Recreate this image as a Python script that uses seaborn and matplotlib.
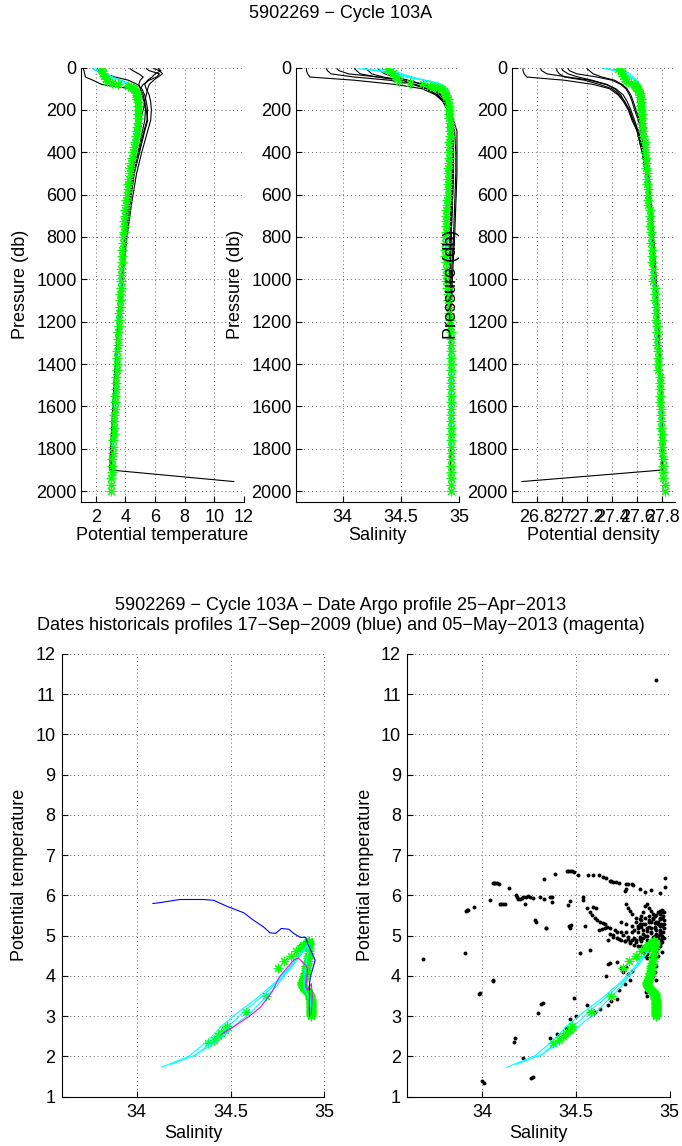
import matplotlib
matplotlib.use("Agg")
import matplotlib.pyplot as plt
import seaborn as sns
from matplotlib.ticker import FixedLocator, FuncFormatter

# ------------------------------------------------------------------ data
title_top = "5902269 \u2212 Cycle 103A"
title_bot1 = "5902269 \u2212 Cycle 103A \u2212 Date Argo profile 25\u2212Apr\u22122013"
title_bot2 = "Dates historicals profiles 17\u2212Sep\u22122009 (blue) and 05\u2212May\u22122013 (magenta)"

pressure_ticks = [0, 200, 400, 600, 800, 1000, 1200, 1400, 1600, 1800, 2000]
temp_ticks = [2, 4, 6, 8, 10, 12]
sal_ticks = [34, 34.5, 35]
dens_ticks = [26.8, 27, 27.2, 27.4, 27.6, 27.8]
theta_ticks = [1, 2, 3, 4, 5, 6, 7, 8, 9, 10, 11, 12]

# Argo profile (green asterisks)
argo_p = [5, 15, 28, 40, 52, 65, 75, 80, 85, 90, 95, 100,
          110, 120, 130, 140, 150, 165, 180, 200, 220, 240,
          260, 280, 300, 325, 350, 375, 400, 425, 450, 475,
          500, 525, 550, 575, 600, 625, 650, 675, 700, 725,
          750, 775, 800, 830, 860, 890, 920, 950, 980, 1010,
          1040, 1070, 1100, 1130, 1160, 1190, 1220, 1250, 1280, 1310,
          1340, 1370, 1400, 1430, 1460, 1490, 1520, 1550, 1580, 1610,
          1640, 1670, 1700, 1730, 1760, 1790, 1820, 1850, 1880, 1910,
          1940, 1970, 2000]
argo_T = [2.33, 2.42, 2.50, 2.58, 2.66, 2.75, 3.10, 3.50, 4.20, 4.36, 4.49, 4.61,
          4.70, 4.73, 4.76, 4.78, 4.80, 4.82, 4.84, 4.85, 4.86, 4.85,
          4.83, 4.80, 4.76, 4.70, 4.63, 4.56, 4.50, 4.44, 4.38, 4.32,
          4.28, 4.24, 4.19, 4.15, 4.11, 4.07, 4.04, 4.00, 3.96, 3.93,
          3.90, 3.88, 3.84, 3.83, 3.80, 3.78, 3.76, 3.72, 3.71, 3.70,
          3.67, 3.65, 3.62, 3.60, 3.58, 3.56, 3.54, 3.52, 3.50, 3.48,
          3.46, 3.44, 3.42, 3.40, 3.38, 3.36, 3.34, 3.32, 3.30, 3.28,
          3.26, 3.24, 3.22, 3.20, 3.18, 3.16, 3.14, 3.12, 3.10, 3.08,
          3.05, 3.03, 3.00]
argo_S = [34.38, 34.41, 34.43, 34.45, 34.47, 34.48, 34.58, 34.69, 34.75, 34.785, 34.82, 34.85,
          34.87, 34.88, 34.885, 34.89, 34.90, 34.905, 34.91, 34.91, 34.915, 34.915,
          34.92, 34.92, 34.92, 34.92, 34.915, 34.915, 34.91, 34.91, 34.91, 34.905,
          34.905, 34.90, 34.90, 34.90, 34.90, 34.895, 34.895, 34.89, 34.89, 34.89,
          34.885, 34.885, 34.88, 34.88, 34.88, 34.88, 34.885, 34.885, 34.89, 34.89,
          34.895, 34.90, 34.905, 34.91, 34.915, 34.92, 34.92, 34.925, 34.925, 34.925,
          34.925, 34.925, 34.93, 34.93, 34.93, 34.93, 34.93, 34.93, 34.93, 34.93,
          34.93, 34.93, 34.93, 34.93, 34.93, 34.93, 34.93, 34.93, 34.93, 34.93,
          34.93, 34.93, 34.93]
argo_sig = [27.45, 27.47, 27.48, 27.49, 27.50, 27.51, 27.55, 27.58, 27.58, 27.59, 27.60, 27.61,
            27.61, 27.62, 27.62, 27.62, 27.63, 27.63, 27.63, 27.63, 27.64, 27.64,
            27.64, 27.64, 27.65, 27.65, 27.66, 27.66, 27.66, 27.67, 27.67, 27.67,
            27.68, 27.68, 27.68, 27.69, 27.69, 27.69, 27.69, 27.70, 27.70, 27.70,
            27.70, 27.71, 27.71, 27.71, 27.72, 27.72, 27.72, 27.73, 27.73, 27.73,
            27.74, 27.74, 27.74, 27.75, 27.75, 27.75, 27.76, 27.76, 27.76, 27.76,
            27.77, 27.77, 27.77, 27.77, 27.78, 27.78, 27.78, 27.78, 27.78, 27.79,
            27.79, 27.79, 27.79, 27.80, 27.80, 27.80, 27.80, 27.81, 27.81, 27.81,
            27.81, 27.82, 27.82]

# nearby historical profiles (black lines)
hist_p = [5, 15, 30, 45, 60, 80, 100, 130, 160, 200, 250, 300, 400, 500, 650, 800, 1000, 1200, 1500, 1900]
hist6_p = [5, 15, 30, 45, 60, 80, 100, 130, 160, 200, 250, 300, 400, 500, 650, 800, 1000, 1200, 1500, 1900, 1955]

hist1_T = [1.15, 1.2, 1.25, 1.3, 1.8, 2.4, 4.3, 4.7, 4.9, 5.0, 5.05, 4.95, 4.7, 4.45, 4.2, 3.95, 3.72, 3.55, 3.3, 3.02]
hist2_T = [4.3, 4.5, 4.9, 5.2, 5.0, 4.9, 5.0, 5.2, 5.3, 5.4, 5.5, 5.3, 4.95, 4.6, 4.3, 4.05, 3.78, 3.58, 3.32, 3.05]
hist3_T = [6.2, 6.4, 6.0, 5.8, 5.5, 5.3, 5.4, 5.6, 5.7, 5.75, 5.7, 5.5, 5.1, 4.75, 4.4, 4.1, 3.8, 3.6, 3.33, 3.04]
hist4_T = [5.4, 5.6, 6.3, 6.1, 5.6, 5.2, 5.0, 5.1, 5.25, 5.35, 5.3, 5.15, 4.85, 4.55, 4.25, 4.0, 3.75, 3.56, 3.3, 3.0]
hist5_T = [2.1, 2.2, 2.6, 3.3, 4.2, 4.8, 5.1, 5.3, 5.4, 5.5, 5.45, 5.25, 4.9, 4.5, 4.22, 3.98, 3.74, 3.55, 3.31, 3.03]
hist6_T = [5.9, 6.3, 6.5, 6.2, 5.9, 5.6, 5.5, 5.4, 5.3, 5.2, 5.0, 4.9, 4.6, 4.4, 4.15, 3.92, 3.7, 3.5, 3.22, 2.92, 11.32]

hist1_S = [33.69, 33.69, 33.70, 33.72, 34.10, 34.45, 34.68, 34.80, 34.86, 34.90, 34.93, 34.94, 34.95, 34.95, 34.94, 34.93, 34.92, 34.92, 34.93, 34.93]
hist2_S = [34.20, 34.22, 34.25, 34.35, 34.50, 34.62, 34.72, 34.80, 34.86, 34.90, 34.93, 34.96, 34.97, 34.97, 34.96, 34.95, 34.93, 34.93, 34.93, 34.93]
hist3_S = [34.30, 34.32, 34.36, 34.45, 34.56, 34.68, 34.76, 34.84, 34.88, 34.92, 34.95, 34.98, 34.98, 34.98, 34.97, 34.96, 34.94, 34.93, 34.93, 34.93]
hist4_S = [33.86, 33.87, 33.90, 34.10, 34.40, 34.60, 34.72, 34.82, 34.87, 34.90, 34.92, 34.93, 34.94, 34.94, 34.93, 34.92, 34.92, 34.92, 34.93, 34.93]
hist5_S = [33.95, 33.97, 34.05, 34.30, 34.55, 34.70, 34.78, 34.85, 34.88, 34.91, 34.93, 34.94, 34.95, 34.95, 34.94, 34.93, 34.92, 34.92, 34.93, 34.93]
hist6_S = [34.10, 34.12, 34.15, 34.30, 34.48, 34.62, 34.72, 34.81, 34.86, 34.90, 34.92, 34.93, 34.94, 34.94, 34.93, 34.92, 34.92, 34.92, 34.93, 34.93, 34.93]

hist1_sig = [26.69, 26.69, 26.70, 26.72, 27.02, 27.25, 27.38, 27.45, 27.49, 27.53, 27.57, 27.60, 27.64, 27.67, 27.70, 27.72, 27.74, 27.76, 27.78, 27.80]
hist2_sig = [26.96, 26.96, 26.98, 27.02, 27.18, 27.30, 27.40, 27.46, 27.50, 27.54, 27.57, 27.61, 27.65, 27.68, 27.71, 27.73, 27.75, 27.77, 27.79, 27.81]
hist3_sig = [27.00, 27.01, 27.05, 27.13, 27.24, 27.36, 27.42, 27.47, 27.50, 27.53, 27.56, 27.60, 27.64, 27.67, 27.70, 27.72, 27.74, 27.76, 27.78, 27.80]
hist4_sig = [26.83, 26.84, 26.88, 27.05, 27.22, 27.35, 27.43, 27.49, 27.52, 27.55, 27.58, 27.61, 27.65, 27.68, 27.71, 27.73, 27.75, 27.77, 27.79, 27.81]
hist5_sig = [27.05, 27.06, 27.12, 27.28, 27.40, 27.47, 27.51, 27.54, 27.56, 27.58, 27.61, 27.63, 27.66, 27.69, 27.71, 27.73, 27.75, 27.77, 27.79, 27.81]
hist6_sig = [27.20, 27.22, 27.25, 27.32, 27.42, 27.48, 27.52, 27.55, 27.57, 27.59, 27.62, 27.64, 27.67, 27.69, 27.71, 27.73, 27.75, 27.77, 27.79, 27.81, 26.68]

# closest reference profiles (cyan)
cyan_p = [5, 15, 25, 35, 45, 55, 65, 75, 85, 100, 130, 200, 400, 700, 1000, 1400, 1800]
cyan1_T = [1.73, 2.01, 2.40, 2.75, 3.10, 3.45, 3.85, 4.20, 4.45, 4.60, 4.72, 4.80, 4.52, 3.98, 3.72, 3.42, 3.12]
cyan2_T = [1.80, 2.05, 2.45, 2.80, 3.15, 3.50, 3.90, 4.25, 4.50, 4.63, 4.74, 4.81, 4.50, 3.96, 3.70, 3.40, 3.10]
cyan3_T = [2.00, 2.30, 2.62, 2.85, 3.05, 3.35, 3.72, 4.10, 4.40, 4.58, 4.70, 4.79, 4.51, 3.97, 3.71, 3.41, 3.11]
cyan1_S = [34.13, 34.28, 34.38, 34.45, 34.54, 34.64, 34.74, 34.81, 34.85, 34.88, 34.90, 34.91, 34.91, 34.89, 34.89, 34.925, 34.93]
cyan2_S = [34.18, 34.32, 34.42, 34.50, 34.58, 34.67, 34.76, 34.83, 34.87, 34.89, 34.905, 34.915, 34.91, 34.89, 34.89, 34.925, 34.93]
cyan3_S = [34.30, 34.40, 34.49, 34.54, 34.60, 34.66, 34.74, 34.80, 34.85, 34.88, 34.90, 34.91, 34.91, 34.89, 34.89, 34.925, 34.93]
cyan1_sig = [27.33, 27.43, 27.48, 27.51, 27.54, 27.57, 27.59, 27.60, 27.61, 27.62, 27.62, 27.63, 27.66, 27.70, 27.73, 27.77, 27.80]
cyan2_sig = [27.36, 27.45, 27.50, 27.53, 27.55, 27.58, 27.60, 27.61, 27.62, 27.62, 27.63, 27.63, 27.66, 27.70, 27.73, 27.77, 27.80]
cyan3_sig = [27.44, 27.49, 27.53, 27.55, 27.57, 27.59, 27.60, 27.61, 27.62, 27.62, 27.63, 27.63, 27.66, 27.70, 27.73, 27.77, 27.80]

# historical profile 17-Sep-2009 (blue) and 05-May-2013 (magenta)
blue_S = [34.085, 34.12, 34.23, 34.355, 34.41, 34.48, 34.57, 34.62, 34.675, 34.71, 34.74, 34.77,
          34.81, 34.835, 34.87, 34.90, 34.91, 34.94, 34.95, 34.925, 34.92, 34.92, 34.92]
blue_T = [5.80, 5.82, 5.90, 5.90, 5.88, 5.73, 5.57, 5.39, 5.22, 5.07, 5.06, 5.18,
          5.16, 5.06, 4.96, 4.96, 4.81, 4.50, 4.39, 3.98, 3.80, 3.40, 3.00]
mag_S = [34.45, 34.52, 34.60, 34.66, 34.72, 34.76, 34.80, 34.835, 34.86, 34.90, 34.91, 34.90,
         34.91, 34.93, 34.935, 34.93, 34.93]
mag_T = [2.55, 2.75, 3.00, 3.23, 3.60, 3.98, 4.20, 4.39, 4.45, 4.27, 4.15, 3.73,
         3.65, 3.81, 3.50, 3.20, 3.05]

# historical data points (black dots, bottom right)
dots_S = [33.685, 33.91, 33.915, 33.92, 33.925, 33.955, 33.985, 33.99, 34.055, 34.06,
          34.04, 34.06, 34.065, 34.07, 34.08, 34.09, 34.095, 34.10, 34.11, 34.12,
          34.145, 34.18, 34.185, 34.19, 34.20, 34.21, 34.22, 34.235, 34.245, 34.255,
          34.27, 34.23, 34.285, 34.30, 34.315, 34.325, 34.31, 34.33, 34.33, 34.34,
          34.36, 34.37, 34.375, 34.39, 34.452, 34.46, 34.47, 34.48, 34.49, 34.51,
          34.46, 34.47, 34.465, 34.52, 34.54, 34.55, 34.564, 34.59, 34.626, 34.56,
          34.575, 34.585, 34.60, 34.615, 34.63, 34.645, 34.655, 34.665, 34.59, 34.61,
          34.625, 34.64, 34.655, 34.645, 34.66, 34.68, 34.69, 34.70, 34.715, 34.73,
          34.67, 34.67, 34.77, 34.78, 34.80, 34.805, 34.76, 34.77, 34.84, 34.90,
          34.95, 34.977, 34.975, 34.87, 34.28, 34.34, 34.47, 34.475, 34.54, 34.573,
          34.68, 34.72, 34.66, 34.73, 34.76, 34.79, 34.56, 34.60, 34.63, 34.67,
          34.69, 34.72, 34.50, 34.47, 34.49, 34.75, 34.78, 34.80, 34.74, 34.77,
          34.00, 34.01, 34.17, 34.175, 34.22, 34.26, 34.27, 34.36, 34.40, 34.45,
          34.70, 34.73, 34.76, 34.79, 34.82, 34.85, 34.88, 34.91, 34.93, 34.72,
          34.75, 34.78, 34.81, 34.84, 34.87, 34.90, 34.93, 34.95, 34.68, 34.71,
          34.74, 34.77, 34.80, 34.83, 34.86, 34.89, 34.92, 34.95, 34.74, 34.77,
          34.80, 34.83, 34.86, 34.89, 34.92, 34.95, 34.96, 34.965, 34.97, 34.97,
          34.97, 34.965, 34.96, 34.955, 34.95, 34.94, 34.93, 34.92, 34.91, 34.90,
          34.89, 34.94, 34.95, 34.955, 34.95, 34.94, 34.93, 34.92, 34.91, 34.86,
          34.87, 34.88, 34.89, 34.90, 34.91, 34.85, 34.84, 34.82, 34.80, 34.79,
          34.78, 34.77, 34.86, 34.87, 34.88, 34.90, 34.92, 34.93, 34.875, 34.87,
          34.875, 34.88, 34.91, 34.92, 34.93, 34.93, 34.90, 34.88, 34.86, 34.84,
          34.82, 34.85, 34.87, 34.89, 34.91, 34.93, 34.95, 34.96, 34.88, 34.90,
          34.92, 34.94, 34.83, 34.81, 34.79, 34.76, 34.74, 34.72, 34.70, 34.68,
          34.78, 34.80, 34.82, 34.84, 34.86, 34.88, 34.90, 34.92, 34.94, 34.96,
          34.81, 34.83, 34.85, 34.87, 34.89, 34.91, 34.93, 34.95, 34.96, 34.97,
          34.85, 34.87, 34.89, 34.91, 34.93, 34.95, 34.96, 34.94, 34.92, 34.90,
          34.88, 34.90, 34.92, 34.94, 34.96, 34.97, 34.96, 34.95, 34.93, 34.91]
dots_T = [4.41, 4.56, 5.62, 5.63, 5.64, 5.71, 3.55, 3.57, 3.88, 3.91,
          5.88, 6.30, 6.31, 6.32, 6.30, 6.29, 5.80, 5.80, 5.80, 5.80,
          6.18, 6.00, 5.95, 5.92, 5.90, 5.93, 5.95, 5.97, 5.98, 5.96,
          5.94, 5.80, 5.35, 3.08, 3.30, 3.32, 5.95, 5.90, 6.42, 5.19,
          5.96, 5.96, 5.85, 6.53, 6.61, 6.62, 6.62, 6.61, 6.58, 6.52,
          5.77, 5.87, 5.23, 4.57, 5.95, 5.25, 6.52, 6.51, 6.50, 5.69,
          5.60, 5.52, 5.45, 5.39, 5.35, 5.31, 5.29, 5.22, 5.72, 5.68,
          5.15, 5.17, 5.19, 6.47, 6.43, 6.37, 6.36, 6.33, 6.33, 6.31,
          4.90, 4.30, 6.28, 6.29, 6.28, 6.27, 6.10, 6.15, 6.15, 6.13,
          6.05, 6.43, 6.22, 6.08, 5.38, 5.20, 5.18, 5.26, 5.88, 4.64,
          4.33, 4.35, 3.99, 3.65, 3.80, 3.90, 3.27, 3.10, 3.19, 3.27,
          3.39, 3.44, 3.00, 2.93, 3.45, 4.10, 4.05, 4.12, 4.20, 4.22,
          1.38, 1.35, 2.35, 2.45, 1.95, 1.47, 1.50, 2.46, 2.57, 2.70,
          4.98, 4.93, 4.88, 4.85, 4.84, 4.86, 4.90, 4.96, 5.05, 5.08,
          5.02, 4.97, 4.95, 4.96, 5.00, 5.06, 5.15, 5.25, 5.20, 5.14,
          5.10, 5.08, 5.08, 5.10, 5.15, 5.22, 5.32, 5.42, 5.35, 5.30,
          5.25, 5.25, 5.30, 5.38, 5.48, 5.55, 5.58, 5.50, 5.40, 5.30,
          5.20, 5.10, 5.00, 4.90, 4.80, 4.70, 4.60, 4.50, 4.40, 4.30,
          4.20, 5.60, 5.45, 5.30, 5.15, 5.00, 4.85, 4.70, 4.55, 5.60,
          5.75, 5.80, 5.70, 5.62, 5.55, 5.50, 5.42, 5.45, 5.55, 5.62,
          5.70, 5.78, 4.60, 4.50, 4.45, 4.35, 4.30, 4.25, 3.85, 3.75,
          3.60, 3.50, 4.00, 4.10, 3.90, 11.35, 5.35, 5.20, 5.05, 5.30,
          5.35, 5.38, 5.45, 5.50, 5.42, 5.35, 5.10, 4.95, 5.12, 5.18,
          5.22, 5.28, 4.75, 4.78, 4.82, 4.86, 4.90, 4.95, 5.02, 5.05,
          4.92, 4.90, 4.90, 4.92, 4.95, 5.00, 5.10, 5.20, 5.35, 5.45,
          5.15, 5.18, 5.22, 5.28, 5.35, 5.45, 5.52, 5.62, 5.65, 5.60,
          4.75, 4.70, 4.65, 4.62, 4.66, 4.75, 4.85, 4.95, 5.00, 4.88,
          4.55, 4.48, 4.45, 4.50, 4.60, 4.95, 5.25, 5.05, 4.80, 4.75]

# ------------------------------------------------------------------ style
sns.set_theme(style="white")
plt.rcParams['font.family'] = ['Liberation Sans', 'DejaVu Sans']
plt.rcParams['axes.unicode_minus'] = True

W, H = 682, 1146
fig = plt.figure(figsize=(W / 100, H / 100), dpi=100)
fig.patch.set_facecolor('white')

GREEN, CYAN, BLUE, MAG, BLACK = '#00ff00', '#00ffff', '#0000ff', '#ff00ff', '#000000'
AST = (8, 2, 0)
FS = 13
fmt = FuncFormatter(lambda v, _: f"{v:g}")


def add_ax(l, t, r, b):
    return fig.add_axes([l / W, 1 - b / H, (r - l) / W, (b - t) / H])


def line(ax, x, y, color, lw=0.8, z=2):
    sns.lineplot(x=x, y=y, sort=False, estimator=None, errorbar=None,
                 color=color, lw=lw, ax=ax, zorder=z)


def stars(ax, x, y, z=4):
    sns.scatterplot(x=x, y=y, marker=AST, s=40, color=GREEN, linewidth=0.8,
                    ax=ax, zorder=z)


def style(ax, wpx, hpx, xlabel, ylabel, xlab_px, ylab_px, ypad):
    sns.despine(ax=ax)
    for s in ('left', 'bottom'):
        ax.spines[s].set_color('black')
        ax.spines[s].set_linewidth(0.8)
    ax.grid(True, color='0.4', linestyle=(0, (1, 3)), linewidth=0.7)
    ax.set_axisbelow(True)
    ax.tick_params(direction='in', length=4, width=0.8, labelsize=FS, colors='black',
                   bottom=True, left=True, top=False, right=False)
    ax.tick_params(axis='x', pad=5)
    ax.tick_params(axis='y', pad=ypad)
    ax.xaxis.set_major_formatter(fmt)
    ax.yaxis.set_major_formatter(fmt)
    ax.set_xlabel(xlabel, fontsize=FS, va='center', color='black')
    ax.xaxis.set_label_coords(0.5, -xlab_px / hpx)
    ax.set_ylabel(ylabel, fontsize=FS, va='center', color='black')
    ax.yaxis.set_label_coords(-ylab_px / wpx, 0.5)
    ax.set_facecolor('white')


hist_T = [hist1_T, hist2_T, hist3_T, hist4_T, hist5_T]
hist_S = [hist1_S, hist2_S, hist3_S, hist4_S, hist5_S]
hist_sig = [hist1_sig, hist2_sig, hist3_sig, hist4_sig, hist5_sig]

# ------------------------------------------------------------------ top row
top_specs = [
    ((81, 67.5, 244, 501.7), hist_T, hist6_T, [cyan1_T, cyan2_T, cyan3_T], argo_T,
     (1, 12), temp_ticks, "Potential temperature"),
    ((296, 67.5, 459.3, 501.7), hist_S, hist6_S, [cyan1_S, cyan2_S, cyan3_S], argo_S,
     (33.6, 35), sal_ticks, "Salinity"),
    ((511.7, 67.5, 674.7, 501.7), hist_sig, hist6_sig, [cyan1_sig, cyan2_sig, cyan3_sig], argo_sig,
     (26.6, 27.9), dens_ticks, "Potential density"),
]
for (box, hv, h6, cv, av, xl, xt, xlab) in top_specs:
    ax = add_ax(*box)
    for v in hv:
        line(ax, v, hist_p, BLACK)
    line(ax, h6, hist6_p, BLACK)
    for v in cv:
        line(ax, v, cyan_p, CYAN)
    stars(ax, av, argo_p)
    ax.set_xlim(*xl)
    ax.set_ylim(2050, 0)
    ax.xaxis.set_major_locator(FixedLocator(xt))
    ax.yaxis.set_major_locator(FixedLocator(pressure_ticks))
    style(ax, box[2] - box[0], box[3] - box[1], xlab, "Pressure (db)", 34, 60, 3)

# ------------------------------------------------------------------ bottom row
boxL = (61.7, 654, 324.5, 1096.7)
boxR = (407.3, 654, 669.5, 1096.7)

axL = add_ax(*boxL)
stars(axL, argo_S, argo_T, z=2)
for s_, t_ in ((cyan1_S, cyan1_T), (cyan2_S, cyan2_T), (cyan3_S, cyan3_T)):
    line(axL, s_, t_, CYAN, z=3)
line(axL, mag_S, mag_T, MAG, z=4)
line(axL, blue_S, blue_T, BLUE, z=5)

axR = add_ax(*boxR)
sns.scatterplot(x=dots_S, y=dots_T, s=8, color=BLACK, linewidth=0, ax=axR, zorder=2)
for s_, t_ in ((cyan1_S, cyan1_T), (cyan2_S, cyan2_T), (cyan3_S, cyan3_T)):
    line(axR, s_, t_, CYAN, z=3)
stars(axR, argo_S, argo_T, z=4)

for ax, box in ((axL, boxL), (axR, boxR)):
    ax.set_xlim(33.6, 35)
    ax.set_ylim(1, 12)
    ax.xaxis.set_major_locator(FixedLocator(sal_ticks))
    ax.yaxis.set_major_locator(FixedLocator(theta_ticks))
    style(ax, box[2] - box[0], box[3] - box[1], "Salinity", "Potential temperature", 36.3, 42, 4.5)

# ------------------------------------------------------------------ titles
fig.text(0.5, 1 - 13 / H, title_top, ha='center', va='center', fontsize=FS, color='black')
fig.text(0.5, 1 - 605 / H, title_bot1, ha='center', va='center', fontsize=FS, color='black')
fig.text(0.5, 1 - 626 / H, title_bot2, ha='center', va='center', fontsize=FS, color='black')

fig.savefig('out.png', dpi=100)
